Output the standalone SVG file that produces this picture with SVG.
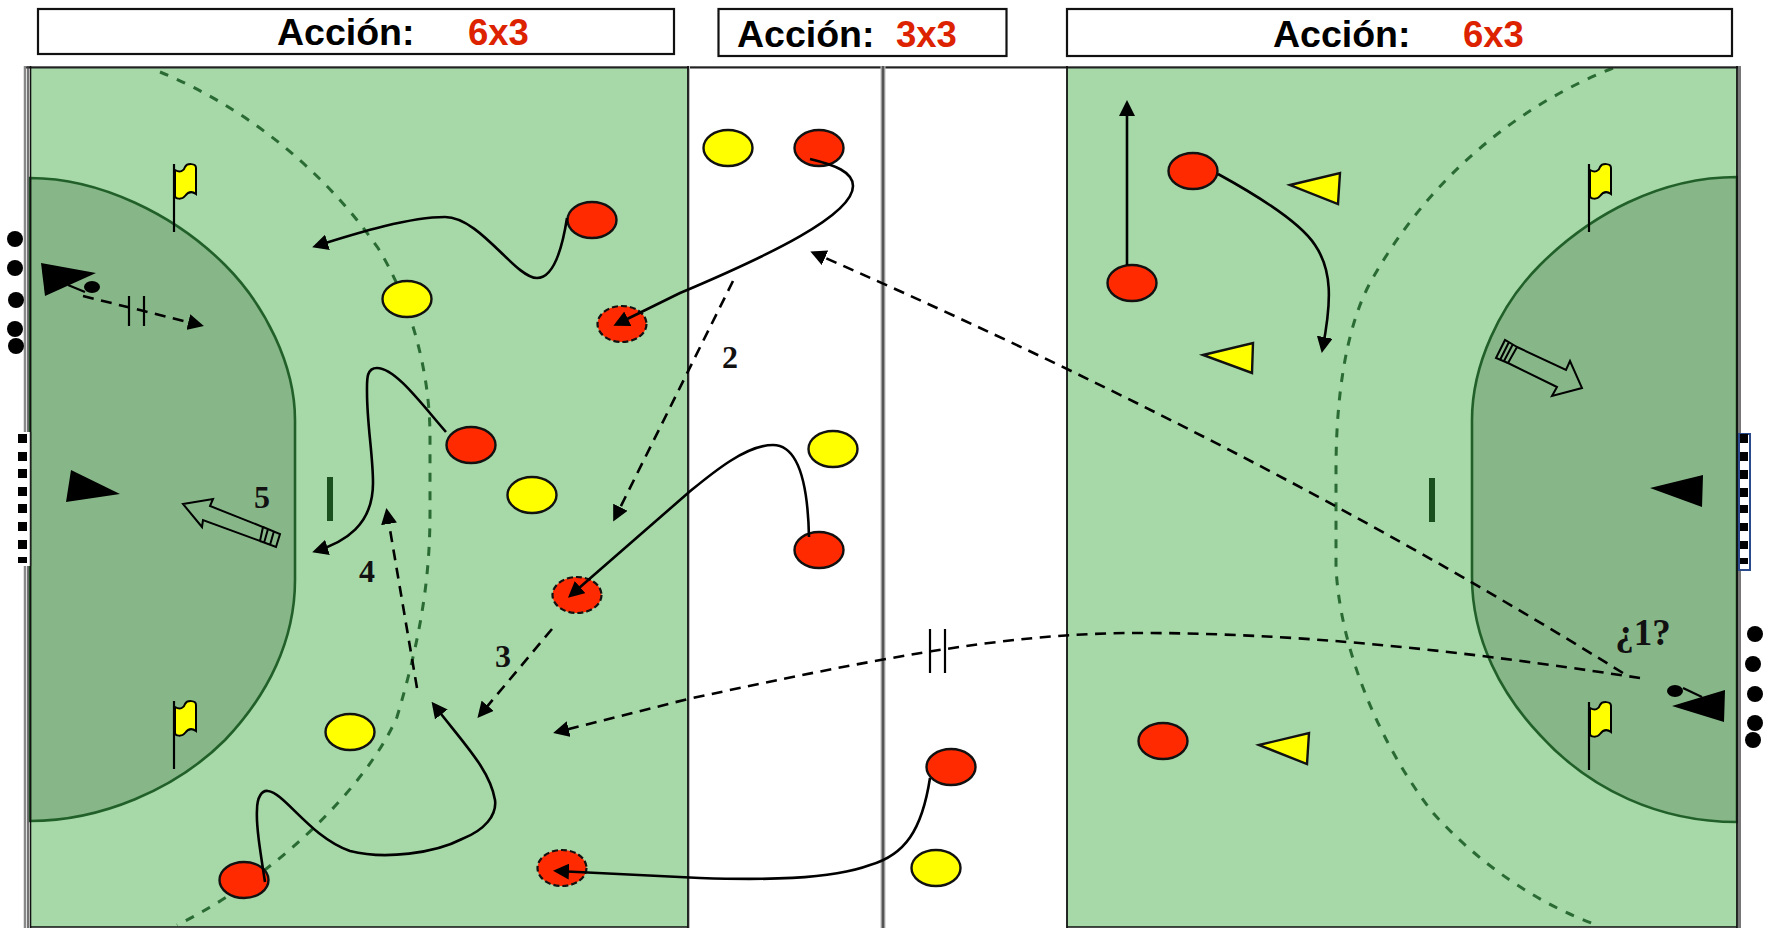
<svg xmlns="http://www.w3.org/2000/svg" width="1769" height="928" viewBox="0 0 1769 928">
<style>
.box{fill:#fff;stroke:#111;stroke-width:2.2}
.t{font-family:"Liberation Sans",Arial,sans-serif;font-weight:bold;font-size:37.5px;fill:#000}
.r{fill:#dd2200;font-size:36.5px}
.n{font-family:"Liberation Serif","Times New Roman",serif;font-weight:bold;font-size:32px;fill:#111;text-anchor:middle}
.red{fill:#ff2a00;stroke:#111;stroke-width:2.4}
.redd{fill:#ff2a00;stroke:#111;stroke-width:2.2;stroke-dasharray:6 3}
.yel{fill:#ffff00;stroke:#111;stroke-width:2.4}
.area{fill:#87b788;stroke:#22602a;stroke-width:2.6}
.arc{fill:none;stroke:#2a6a33;stroke-width:3;stroke-dasharray:9 9.5}
.tick{fill:#1a4f1e}
.s{fill:none;stroke:#000;stroke-width:2.6;marker-end:url(#ah)}
.d{fill:none;stroke:#000;stroke-width:2.6;stroke-dasharray:11 7.5;marker-end:url(#ah)}
.thin{fill:none;stroke:#000;stroke-width:2.2}
.out{fill:none;stroke:#000;stroke-width:2}
.dot{fill:#000}
</style>
<defs>
<marker id="ah" markerUnits="userSpaceOnUse" markerWidth="16" markerHeight="16" viewBox="0 0 16 16" refX="12" refY="8" orient="auto"><path d="M0 0L16 8L0 16Z" fill="#000"/></marker>
<g id="flag"><path d="M175 170C180 173 184 171 185 167C187 163 196 163 196 168L196 194C192 191 188 192 185 196C182 200 175 199 175 196Z" fill="#ffff00" stroke="#000" stroke-width="2"/><path d="M174 164V232" stroke="#000" stroke-width="2.2" fill="none"/></g>
</defs>

<g id="field">
<rect x="30" y="67" width="658" height="860" fill="#a7d9a8"/>
<rect x="1067" y="67" width="670" height="860" fill="#a7d9a8"/>
<path d="M30 178C100 178 175 215 225 265C265 305 295 365 295 420V580C295 640 268 695 225 740C175 790 100 821 30 821Z" class="area"/>
<path d="M1737 177C1660 177 1590 215 1540 265C1500 305 1472 365 1472 420V577C1472 640 1502 695 1540 735C1590 790 1660 822 1737 822Z" class="area"/>
<path d="M160 72C240 105 320 165 378 248C410 300 430 370 430 437L430 513C430 580 420 640 397 717C365 790 270 880 177 925" class="arc"/>
<path d="M1613 68C1520 105 1430 175 1370 283C1345 330 1336 400 1336 470L1336 567C1340 650 1380 745 1433 813C1480 865 1540 905 1597 925" class="arc"/>
<rect x="327" y="477" width="6" height="44" class="tick"/>
<rect x="1429" y="478" width="6" height="44" class="tick"/>
<path d="M24 66.500H1741" stroke="#aaa" stroke-width="1"/>
<path d="M24 67.500H1741" stroke="#222" stroke-width="2"/>
<path d="M25 66V928" stroke="#888" stroke-width="2.500"/>
<path d="M28 66V928" stroke="#444" stroke-width="1.500"/>
<path d="M30.500 66V928" stroke="#111" stroke-width="1.600"/>
<path d="M688 66V928" stroke="#111" stroke-width="1.800"/>
<path d="M689.500 66V928" stroke="#bbb" stroke-width="1"/>
<path d="M883 66V928" stroke="#bbb" stroke-width="5"/>
<path d="M883 66V928" stroke="#555" stroke-width="2.600"/>
<path d="M1067 66V928" stroke="#111" stroke-width="1.800"/>
<path d="M1737 66V928" stroke="#111" stroke-width="1.800"/>
<path d="M1739.500 66V928" stroke="#777" stroke-width="3"/>
<path d="M30 927H688M1067 927H1737" stroke="#111" stroke-width="1.600"/>
</g>

<g id="goal-left">
<rect x="17" y="432" width="14" height="134" fill="#fff"/>
<path d="M18 434h9v9h-9zM18 452h9v9h-9zM18 469h9v9h-9zM18 487h9v9h-9zM18 504h9v9h-9zM18 522h9v9h-9zM18 540h9v9h-9zM18 557h9v6h-9z" fill="#000"/>
<path d="M30.500 432V566" stroke="#222" stroke-width="1.500"/>
</g>
<g id="goal-right">
<rect x="1739" y="434" width="11" height="136" fill="#fff" stroke="#2a4a8c" stroke-width="2"/>
<path d="M1740 434h8v9h-8zM1740 452h8v9h-8zM1740 470h8v9h-8zM1740 488h8v9h-8zM1740 505h8v8h-8zM1740 523h8v8h-8zM1740 541h8v8h-8zM1740 558h8v6h-8z" fill="#000"/>
</g>

<g id="headers">
<g id="header-left"><rect x="38" y="9" width="636" height="45" class="box"/><text x="277" y="45" class="t">Acción:</text><text x="468" y="45" class="t r">6x3</text></g>
<g id="header-mid"><rect x="718.500" y="9" width="288" height="47" class="box"/><text x="737" y="47" class="t">Acción:</text><text x="896" y="47" class="t r">3x3</text></g>
<g id="header-right"><rect x="1067" y="9" width="665" height="47" class="box"/><text x="1273" y="47" class="t">Acción:</text><text x="1463" y="47" class="t r">6x3</text></g>
</g>

<g id="flags">
<use href="#flag"/>
<use href="#flag" y="537"/>
<use href="#flag" x="1415"/>
<use href="#flag" x="1415" y="538"/>
</g>

<g id="bench-left">
<circle cx="15" cy="239" r="8" class="dot"/><circle cx="15" cy="268" r="8" class="dot"/><circle cx="16" cy="300" r="8" class="dot"/><circle cx="15" cy="329" r="8" class="dot"/><circle cx="16" cy="346" r="8" class="dot"/>
</g>
<g id="bench-right">
<circle cx="1755" cy="634" r="8" class="dot"/><circle cx="1753" cy="664" r="8" class="dot"/><circle cx="1755" cy="694" r="8" class="dot"/><circle cx="1755" cy="723" r="8" class="dot"/><circle cx="1753" cy="740" r="8" class="dot"/>
</g>

<g id="players">
<ellipse id="y1" cx="728" cy="148" rx="24.500" ry="18" class="yel"/>
<ellipse id="r1" cx="819" cy="148" rx="24.500" ry="18" class="red"/>
<ellipse id="r2" cx="592" cy="220" rx="24.500" ry="18" class="red"/>
<ellipse id="y2" cx="407" cy="299" rx="24.500" ry="18" class="yel"/>
<ellipse id="rd1" cx="622" cy="324" rx="24.500" ry="18" class="redd"/>
<ellipse id="r3" cx="471" cy="445" rx="24.500" ry="18" class="red"/>
<ellipse id="y3" cx="532" cy="495" rx="24.500" ry="18" class="yel"/>
<ellipse id="y4" cx="833" cy="449" rx="24.500" ry="18" class="yel"/>
<ellipse id="r4" cx="819" cy="550" rx="24.500" ry="18" class="red"/>
<ellipse id="rd2" cx="577" cy="595" rx="24.500" ry="18" class="redd"/>
<ellipse id="y5" cx="350" cy="732" rx="24.500" ry="18" class="yel"/>
<ellipse id="r5" cx="244" cy="880" rx="24.500" ry="18" class="red"/>
<ellipse id="rd3" cx="562" cy="868" rx="24.500" ry="18" class="redd"/>
<ellipse id="r6" cx="951" cy="767" rx="24.500" ry="18" class="red"/>
<ellipse id="y6" cx="936" cy="868" rx="24.500" ry="18" class="yel"/>
<ellipse id="r7" cx="1193" cy="171" rx="24.500" ry="18" class="red"/>
<ellipse id="r8" cx="1132" cy="283" rx="24.500" ry="18" class="red"/>
<ellipse id="r9" cx="1163" cy="741" rx="24.500" ry="18" class="red"/>
<path id="t1" d="M1290 185L1340 173L1338 204Z" class="yel"/>
<path id="t2" d="M1203 355L1253 343L1252 373Z" class="yel"/>
<path id="t3" d="M1259 745L1309 733L1307 764Z" class="yel"/>
</g>

<g id="goalkeepers">
<path id="gk1" d="M41 263L96 273L45 296Z" fill="#000"/>
<ellipse cx="92" cy="287" rx="8" ry="6" fill="#000"/><path d="M68 285L85 292" class="thin"/>
<path id="gk2" d="M71 470L120 494L66 502Z" fill="#000"/>
<path id="gk3" d="M1650 488L1703 475L1702 507Z" fill="#000"/>
<path id="gk4" d="M1672 706L1725 690L1724 722Z" fill="#000"/>
<ellipse cx="1675" cy="691" rx="8" ry="6" fill="#000"/><path d="M1683 688L1702 697" class="thin"/>
</g>

<g id="connectors">
<path class="s" d="M567 218C562 250 553 278 537 278C515 278 480 217 445 217C410 217 360 232 316 246"/>
<path class="s" d="M810 159C835 165 853 172 853 186C853 215 770 255 680 293L617 324"/>
<path class="s" d="M446 432C420 402 395 368 377 368C366 368 367 380 367 392C367 425 373 455 373 483C373 525 345 542 316 551"/>
<path class="s" d="M809 537C808 490 800 445 773 445C745 445 710 475 688 493L571 595"/>
<path class="s" d="M265 882C260 850 256 825 257 810C257 797 262 790 268 791C285 793 310 837 350 851C385 860 435 853 462 839C485 830 497 815 495 800C490 770 465 745 434 705"/>
<path class="s" d="M930 778C922 830 905 855 870 865C830 880 760 880 700 878L557 871"/>
<path class="s" d="M1127 265V104"/>
<path class="s" d="M1218 174C1260 197 1300 222 1315 245C1332 270 1332 300 1322.500 349"/>
<path class="d" d="M733 281L615 518"/>
<path class="d" d="M552 629L480 715"/>
<path class="d" d="M417 688L387 512"/>
<path class="d" d="M1640 678C1520 660 1330 632 1130 633C1000 634 870 660 688 699L557 732"/>
<path class="d" d="M1623 673C1400 535 1150 400 814 253"/>
<path class="d" d="M83 296L200 325"/>
<path class="thin" d="M129 296V326M144 296V326M930 629V673M945 629V673"/>
</g>

<g id="shot-arrows">
<path class="out" d="M183 504L213 499L210 506L263 527L260 541L203 520L202 527Z"/>
<path class="out" d="M263 527L280 534L276 547L260 541M268 529L264 543M274 531L270 545"/>
<path class="out" d="M1517 347L1566 370L1570 361L1582 388L1552 396L1557 387L1508 363Z"/>
<path class="out" d="M1517 347L1505 340L1496 358L1508 363M1513 344L1504 361M1509 342L1500 360"/>
</g>

<g id="labels">
<text x="730" y="368" class="n">2</text>
<text x="503" y="667" class="n">3</text>
<text x="367" y="582" class="n">4</text>
<text x="262" y="508" class="n">5</text>
<text x="1643" y="645" class="n" style="font-size:37px">¿1?</text>
</g>
</svg>
